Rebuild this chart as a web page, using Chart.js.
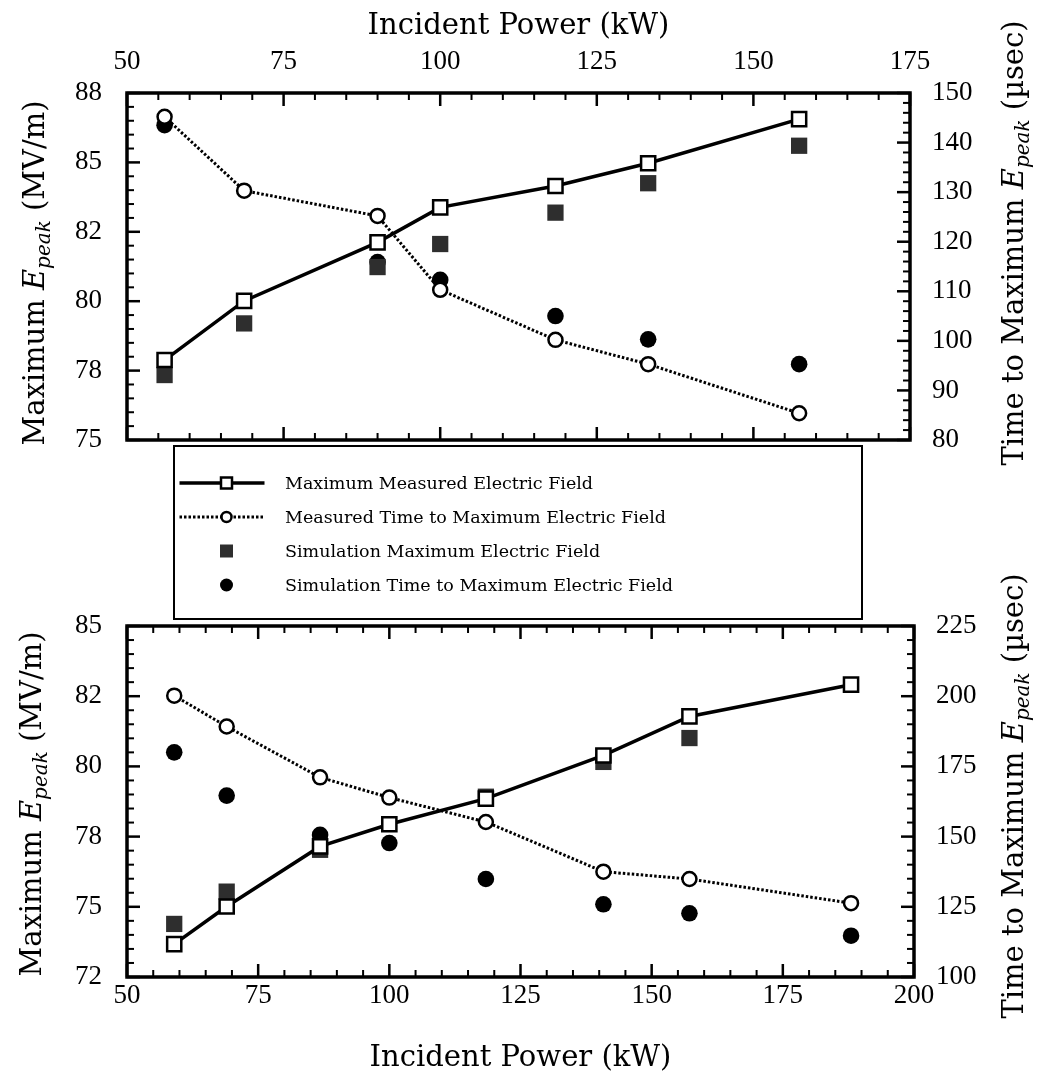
<!DOCTYPE html>
<html>
<head>
<meta charset="utf-8">
<script src="https://cdn.jsdelivr.net/npm/chart.js@4.4.1/dist/chart.umd.min.js"></script>
<style>
  html, body { margin: 0; padding: 0; background: #fff; overflow: hidden; }
  #page { position: relative; width: 1044px; height: 1074px; }
  #page canvas.chart { position: absolute; left: 0; }
  #top { top: 0; }
  #bottom { top: 570px; }
  #legend {
    position: absolute; left: 173px; top: 445px; width: 690px; height: 175px;
    box-sizing: border-box; border: 2.5px solid #000; background: #fff;
    font-family: 'DejaVu Serif', serif; font-size: 17.5px; color: #000;
  }
  #legend .row { position: absolute; left: 0; height: 30px; display: flex; align-items: center; }
  #legend .row span { margin-left: 10px; white-space: nowrap; }
</style>
</head>
<body>
<div id="page">
  <canvas id="top" class="chart" width="1044" height="470"></canvas>
  <canvas id="bottom" class="chart" width="1044" height="504"></canvas>
  <div id="legend"></div>
</div>
<script>
// upper panel
const topPower = [56, 68.7, 90, 100, 118.4, 133.2, 157.3];
const topMeasField = [77.88, 80.01, 82.12, 83.38, 84.15, 84.97, 86.56];
const topMeasTime = [145.2, 130.3, 125.2, 110.3, 100.2, 95.3, 85.4];
const topSimField = [77.34, 79.2, 81.23, 82.06, 83.19, 84.25, 85.6];
const topSimTime = [143.5, null, 115.9, 112.3, 105.0, 100.3, 95.3];
const topFieldTicks = ['75', '78', '80', '82', '85', '88'];

// lower panel
const botPower = [59, 69, 86.8, 100, 118.4, 140.8, 157.2, 188];
const botMeasField = [73.67, 75.01, 77.15, 77.94, 78.85, 80.39, 81.78, 82.91];
const botMeasTime = [200.2, 189.2, 171.1, 163.9, 155.2, 137.5, 134.9, 126.3];
const botSimField = [74.39, 75.54, 77.03, null, 78.92, 80.16, 81.01, null];
const botSimTime = [180.0, 164.6, 150.6, 147.7, 134.9, 125.9, 122.7, 114.7];
const botFieldTicks = ['72', '75', '78', '80', '82', '85'];

const seriesLabels = [
  'Maximum Measured Electric Field',
  'Measured Time to Maximum Electric Field',
  'Simulation Maximum Electric Field',
  'Simulation Time to Maximum Electric Field'
];
const xTitle = 'Incident Power (kW)';
const fieldTitle = [['Maximum ', ''], ['E', 'i'], ['peak', 'is'], [' (MV/m)', '']];
const timeTitle = [['Time to Maximum ', ''], ['E', 'i'], ['peak', 'is'], [' (\u00b5sec)', '']];

const tickFont = { family: "'Liberation Serif', 'Times New Roman', serif", size: 27 };
const titleFont = { family: "'DejaVu Serif', serif", size: 29, lineHeight: 1 };

function pts(xs, ys) {
  return xs.map((x, i) => ({ x: x, y: ys[i] })).filter(p => p.y !== null);
}

function makeDatasets(xs, mf, mt, sf, st) {
  return [
    { label: seriesLabels[0], data: pts(xs, mf), yAxisID: 'yField', showLine: true,
      borderColor: '#000', borderWidth: 3.5, pointStyle: 'rect', pointRadius: 10,
      pointBackgroundColor: '#fff', pointBorderColor: '#000', pointBorderWidth: 2.5 },
    { label: seriesLabels[1], data: pts(xs, mt), yAxisID: 'yTime', showLine: true,
      borderColor: '#000', borderWidth: 3, borderDash: [2.5, 2], pointStyle: 'circle', pointRadius: 7,
      pointBackgroundColor: '#fff', pointBorderColor: '#000', pointBorderWidth: 2.5 },
    { label: seriesLabels[2], data: pts(xs, sf), yAxisID: 'yField', showLine: false,
      pointStyle: 'rect', pointRadius: 11.5, pointBackgroundColor: '#2e2e2e', pointBorderWidth: 0 },
    { label: seriesLabels[3], data: pts(xs, st), yAxisID: 'yTime', showLine: false,
      pointStyle: 'circle', pointRadius: 8.3, pointBackgroundColor: '#000', pointBorderWidth: 0 }
  ];
}

// frame plus inward major/minor tick marks
const frameTicks = {
  id: 'frameTicks',
  afterDatasetsDraw(chart, args, opts) {
    const ctx = chart.ctx;
    const a = chart.chartArea;
    ctx.save();
    ctx.strokeStyle = '#000';
    opts.marks.forEach(m => {
      const s = chart.scales[m.id];
      const n = Math.round((s.max - s.min) / m.minor);
      for (let i = 0; i <= n; i++) {
        const v = s.min + i * m.minor;
        const r = (v - s.min) / m.major;
        const major = Math.abs(r - Math.round(r)) < 1e-6;
        const len = major ? 13 : 7;
        ctx.lineWidth = major ? 2.5 : 2;
        const p = s.getPixelForValue(v);
        ctx.beginPath();
        m.sides.forEach(side => {
          if (side === 'top') { ctx.moveTo(p, a.top); ctx.lineTo(p, a.top + len); }
          if (side === 'bottom') { ctx.moveTo(p, a.bottom); ctx.lineTo(p, a.bottom - len); }
          if (side === 'left') { ctx.moveTo(a.left, p); ctx.lineTo(a.left + len, p); }
          if (side === 'right') { ctx.moveTo(a.right, p); ctx.lineTo(a.right - len, p); }
        });
        ctx.stroke();
      }
    });
    ctx.lineWidth = 3.5;
    ctx.strokeRect(a.left, a.top, a.right - a.left, a.bottom - a.top);
    ctx.restore();
  }
};

// rotated y titles with italic E and subscript "peak"
const richTitles = {
  id: 'richTitles',
  afterDraw(chart, args, opts) {
    const ctx = chart.ctx;
    opts.items.forEach(item => {
      ctx.save();
      ctx.translate(item.x, item.y);
      ctx.rotate(-Math.PI / 2);
      ctx.fillStyle = '#000';
      ctx.textBaseline = 'alphabetic';
      const parts = item.parts.map(([text, st]) => {
        const size = st.includes('s') ? 20 : 29;
        const font = (st.includes('i') ? 'italic ' : '') + size + "px 'DejaVu Serif', serif";
        ctx.font = font;
        return { text, font, sub: st.includes('s'), w: ctx.measureText(text).width };
      });
      const total = parts.reduce((t, p) => t + p.w, 0);
      let x = -total / 2;
      parts.forEach(p => {
        ctx.font = p.font;
        ctx.fillText(p.text, x, p.sub ? 6 : 0);
        x += p.w;
      });
      ctx.restore();
    });
  }
};

// fixed axis sizes so the plot frames land where the original has them
function fixY(width) {
  return s => { s.width = width; s.paddingTop = 0; s.paddingBottom = 0; };
}
function fixX(height) {
  return s => { s.height = height; s.paddingLeft = 0; s.paddingRight = 0; };
}

function fieldAxis(min, labels, width) {
  return {
    type: 'linear', position: 'left', min: min, max: min + 12.5,
    ticks: { stepSize: 2.5, font: tickFont, color: '#000', padding: 25,
             callback: (v, i) => labels[i] },
    grid: { display: false, drawTicks: false }, border: { display: false },
    afterFit: fixY(width)
  };
}

function timeAxis(min, max, step, width) {
  return {
    type: 'linear', position: 'right', min: min, max: max,
    ticks: { stepSize: step, font: tickFont, color: '#000', padding: 22 },
    grid: { display: false, drawTicks: false }, border: { display: false },
    afterFit: fixY(width)
  };
}

const topChart = new Chart(document.getElementById('top'), {
  type: 'scatter',
  data: { datasets: makeDatasets(topPower, topMeasField, topMeasTime, topSimField, topSimTime) },
  plugins: [frameTicks, richTitles],
  options: {
    responsive: false, animation: false, devicePixelRatio: 1,
    layout: { padding: { bottom: 30 } },
    scales: {
      x: {
        type: 'linear', position: 'top', min: 50, max: 175,
        ticks: { stepSize: 25, font: tickFont, color: '#000', padding: 15, maxRotation: 0, minRotation: 0 },
        grid: { display: false, drawTicks: false }, border: { display: false },
        title: { display: true, text: xTitle, font: titleFont, color: '#000', padding: { top: 12, bottom: 0 } },
        afterFit: fixX(93)
      },
      yField: fieldAxis(75, topFieldTicks, 127),
      yTime: timeAxis(80, 150, 10, 134)
    },
    plugins: {
      legend: { display: false },
      tooltip: { enabled: false },
      frameTicks: { marks: [
        { id: 'x', minor: 5, major: 25, sides: ['top', 'bottom'] },
        { id: 'yField', minor: 0.5, major: 2.5, sides: ['left'] },
        { id: 'yTime', minor: 2, major: 10, sides: ['right'] }
      ] },
      richTitles: { items: [
        { parts: fieldTitle, x: 44, y: 273 },
        { parts: timeTitle, x: 1023, y: 243 }
      ] }
    }
  }
});

const bottomChart = new Chart(document.getElementById('bottom'), {
  type: 'scatter',
  data: { datasets: makeDatasets(botPower, botMeasField, botMeasTime, botSimField, botSimTime) },
  plugins: [frameTicks, richTitles],
  options: {
    responsive: false, animation: false, devicePixelRatio: 1,
    layout: { padding: { top: 56 } },
    scales: {
      x: {
        type: 'linear', position: 'bottom', min: 50, max: 200,
        ticks: { stepSize: 25, font: tickFont, color: '#000', padding: 3, maxRotation: 0, minRotation: 0 },
        grid: { display: false, drawTicks: false }, border: { display: false },
        title: { display: true, text: xTitle, font: titleFont, color: '#000', padding: { top: 0, bottom: 1.5 } },
        afterFit: fixX(97)
      },
      yField: fieldAxis(72.5, botFieldTicks, 127),
      yTime: timeAxis(100, 225, 25, 130)
    },
    plugins: {
      legend: { display: false },
      tooltip: { enabled: false },
      frameTicks: { marks: [
        { id: 'x', minor: 5, major: 25, sides: ['top', 'bottom'] },
        { id: 'yField', minor: 0.5, major: 2.5, sides: ['left'] },
        { id: 'yTime', minor: 5, major: 25, sides: ['right'] }
      ] },
      richTitles: { items: [
        { parts: fieldTitle, x: 41, y: 234 },
        { parts: timeTitle, x: 1023, y: 226 }
      ] }
    }
  }
});

// legend box between the panels, built from the upper chart's datasets
function drawSymbol(g, ds) {
  g.strokeStyle = '#000';
  if (ds.showLine) {
    g.lineWidth = ds.borderWidth;
    g.setLineDash(ds.borderDash || []);
    g.beginPath(); g.moveTo(4.5, 15); g.lineTo(89.5, 15); g.stroke();
    g.setLineDash([]);
  }
  const cx = 51.5, cy = 15;
  g.fillStyle = ds.pointBackgroundColor;
  g.lineWidth = ds.pointBorderWidth;
  g.beginPath();
  if (ds.pointStyle === 'rect') {
    const h = ds.pointBorderWidth ? 5.5 : 6.5;
    g.rect(cx - h, cy - h, 2 * h, 2 * h);
  } else {
    g.arc(cx, cy, ds.pointBorderWidth ? 5 : 6.5, 0, Math.PI * 2);
  }
  g.fill();
  if (ds.pointBorderWidth) g.stroke();
}

const legendBox = document.getElementById('legend');
topChart.data.datasets.forEach((ds, i) => {
  const row = document.createElement('div');
  row.className = 'row';
  row.style.top = (20.5 + i * 34) + 'px';
  const c = document.createElement('canvas');
  c.width = 100; c.height = 30;
  drawSymbol(c.getContext('2d'), ds);
  const span = document.createElement('span');
  span.textContent = ds.label;
  row.appendChild(c);
  row.appendChild(span);
  legendBox.appendChild(row);
});
</script>
</body>
</html>
